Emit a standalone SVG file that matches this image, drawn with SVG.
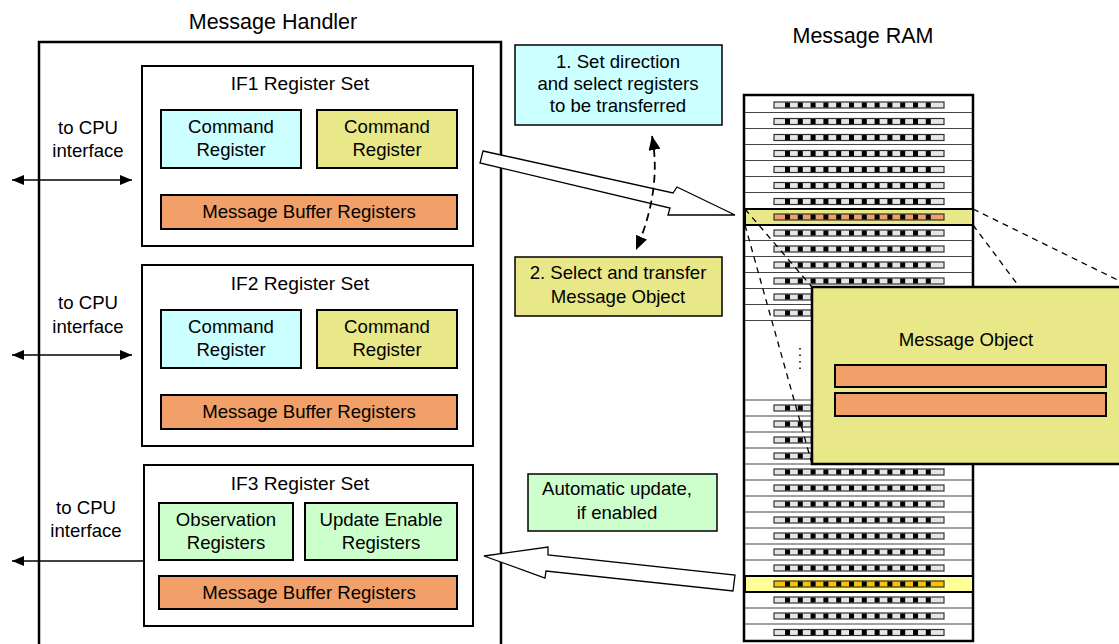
<svg xmlns="http://www.w3.org/2000/svg" width="1119" height="644" viewBox="0 0 1119 644">
<style>
text{font-family:"Liberation Sans",Arial,sans-serif;font-size:18.6px;fill:#000;text-anchor:middle}
.title{font-size:21.5px}
.sub{font-size:19.2px}
.box{stroke:#000;stroke-width:2}
.cyan{fill:#ccffff}
.yel{fill:#e8e888}
.org{fill:#f0a068}
.grn{fill:#ccffcc}
.sep{stroke:#444;stroke-width:1.2}
.dash{stroke:#000;stroke-width:1.3;stroke-dasharray:6 5;fill:none}
.conn{stroke:#000;stroke-width:1.5;fill:none}
.hollow{fill:#fff;stroke:#000;stroke-width:1.3}
</style>
<defs>
<marker id="ah" viewBox="0 0 12 10" refX="12" refY="5" markerWidth="12" markerHeight="10" markerUnits="userSpaceOnUse" orient="auto-start-reverse">
<path d="M0,0 L12,5 L0,10 z" fill="#000"/>
</marker>
<marker id="ah2" viewBox="0 0 14 12" refX="14" refY="6" markerWidth="14" markerHeight="12" markerUnits="userSpaceOnUse" orient="auto-start-reverse">
<path d="M0,0 L14,6 L0,12 z" fill="#000"/>
</marker>
<g id="strip">
<rect x="774" y="-3" width="170" height="6" fill="#e6e6e6" stroke="#333" stroke-width="1.2"/>
<line x1="785" y1="0" x2="931" y2="0" stroke="#000" stroke-width="5" stroke-dasharray="5 7.8"/>
</g>
<g id="stripO">
<rect x="774" y="-3" width="170" height="6" fill="#f0a068" stroke="#333" stroke-width="1.2"/>
<line x1="785" y1="0" x2="931" y2="0" stroke="#000" stroke-width="5" stroke-dasharray="5 7.8"/>
</g>
<g id="stripG">
<rect x="774" y="-3" width="170" height="6" fill="#ffc000" stroke="#333" stroke-width="1.2"/>
<line x1="785" y1="0" x2="931" y2="0" stroke="#000" stroke-width="5" stroke-dasharray="5 7.8"/>
</g>
</defs>
<rect width="1119" height="644" fill="#fff"/>

<g id="message-handler">
<rect x="39" y="42" width="462" height="620" fill="#fff" stroke="#000" stroke-width="2.5"/>
<text class="title" x="273" y="29">Message Handler</text>
</g>

<g id="cpu-labels">
<text x="88" y="134">to CPU</text>
<text x="88" y="157">interface</text>
<text x="88" y="309">to CPU</text>
<text x="88" y="333">interface</text>
<text x="86" y="514">to CPU</text>
<text x="86" y="537">interface</text>
</g>

<g id="if1">
<rect class="box" x="142" y="66" width="331" height="180" fill="#fff"/>
<text class="sub" x="300" y="90">IF1 Register Set</text>
<rect class="box cyan" x="161" y="110" width="140" height="58"/>
<text x="231" y="133">Command</text><text x="231" y="156">Register</text>
<rect class="box yel" x="317" y="110" width="140" height="58"/>
<text x="387" y="133">Command</text><text x="387" y="156">Register</text>
<rect class="box org" x="161" y="195" width="296" height="34"/>
<text x="309" y="218">Message Buffer Registers</text>
</g>

<g id="if2">
<rect class="box" x="142" y="265" width="331" height="181" fill="#fff"/>
<text class="sub" x="300" y="290">IF2 Register Set</text>
<rect class="box cyan" x="161" y="310" width="140" height="58"/>
<text x="231" y="333">Command</text><text x="231" y="356">Register</text>
<rect class="box yel" x="317" y="310" width="140" height="58"/>
<text x="387" y="333">Command</text><text x="387" y="356">Register</text>
<rect class="box org" x="161" y="395" width="296" height="34"/>
<text x="309" y="418">Message Buffer Registers</text>
</g>

<g id="if3">
<rect class="box" x="144" y="465" width="329" height="161" fill="#fff"/>
<text class="sub" x="300" y="490">IF3 Register Set</text>
<rect class="box grn" x="159" y="503" width="134" height="57"/>
<text x="226" y="526">Observation</text><text x="226" y="549">Registers</text>
<rect class="box grn" x="305" y="503" width="152" height="57"/>
<text x="381" y="526">Update Enable</text><text x="381" y="549">Registers</text>
<rect class="box org" x="159" y="576" width="298" height="33"/>
<text x="309" y="599">Message Buffer Registers</text>
</g>

<g id="label-1">
<rect x="515" y="45" width="207" height="80" class="cyan" stroke="#000" stroke-width="1.5"/>
<text x="618" y="68">1. Set direction</text>
<text x="618" y="90">and select registers</text>
<text x="618" y="112">to be transferred</text>
</g>
<g id="label-2">
<rect x="515" y="257" width="207" height="59" class="yel" stroke="#000" stroke-width="1.5"/>
<text x="618" y="279">2. Select and transfer</text>
<text x="618" y="303">Message Object</text>
</g>
<g id="label-auto">
<rect x="528" y="474" width="189" height="57" class="grn" stroke="#000" stroke-width="1.5"/>
<text x="617" y="495">Automatic update,</text>
<text x="617" y="519">if enabled</text>
</g>

<g id="message-ram">
<text class="title" x="863" y="43">Message RAM</text>
<rect x="744" y="95" width="229" height="546" fill="#fff" stroke="#000" stroke-width="2.5"/>
<g class="sep">
<line x1="745" y1="112.5" x2="972" y2="112.5"/>
<line x1="745" y1="128.5" x2="972" y2="128.5"/>
<line x1="745" y1="144.5" x2="972" y2="144.5"/>
<line x1="745" y1="160.5" x2="972" y2="160.5"/>
<line x1="745" y1="176.5" x2="972" y2="176.5"/>
<line x1="745" y1="192.5" x2="972" y2="192.5"/>
<line x1="745" y1="240.5" x2="972" y2="240.5"/>
<line x1="745" y1="256.5" x2="972" y2="256.5"/>
<line x1="745" y1="272.5" x2="972" y2="272.5"/>
<line x1="745" y1="288.5" x2="972" y2="288.5"/>
<line x1="745" y1="304.5" x2="972" y2="304.5"/>
<line x1="745" y1="320.5" x2="972" y2="320.5"/>
<line x1="745" y1="400" x2="972" y2="400"/>
<line x1="745" y1="416" x2="972" y2="416"/>
<line x1="745" y1="432" x2="972" y2="432"/>
<line x1="745" y1="448" x2="972" y2="448"/>
<line x1="745" y1="464" x2="972" y2="464"/>
<line x1="745" y1="480" x2="972" y2="480"/>
<line x1="745" y1="496" x2="972" y2="496"/>
<line x1="745" y1="512" x2="972" y2="512"/>
<line x1="745" y1="528" x2="972" y2="528"/>
<line x1="745" y1="544" x2="972" y2="544"/>
<line x1="745" y1="560" x2="972" y2="560"/>
<line x1="745" y1="608" x2="972" y2="608"/>
<line x1="745" y1="624" x2="972" y2="624"/>
</g>
<rect x="745" y="209" width="228" height="16" fill="#e8e888" stroke="#000" stroke-width="2"/>
<rect x="745" y="576" width="228" height="16" fill="#ffff99" stroke="#000" stroke-width="2"/>
<use href="#strip" y="105"/>
<use href="#strip" y="121.5"/>
<use href="#strip" y="137.5"/>
<use href="#strip" y="153.5"/>
<use href="#strip" y="169.5"/>
<use href="#strip" y="185.5"/>
<use href="#strip" y="201.5"/>
<use href="#stripO" y="217"/>
<use href="#strip" y="233"/>
<use href="#strip" y="249"/>
<use href="#strip" y="265"/>
<use href="#strip" y="281"/>
<use href="#strip" y="297"/>
<use href="#strip" y="313"/>
<use href="#strip" y="408"/>
<use href="#strip" y="424"/>
<use href="#strip" y="440"/>
<use href="#strip" y="456"/>
<use href="#strip" y="472"/>
<use href="#strip" y="488"/>
<use href="#strip" y="504"/>
<use href="#strip" y="520"/>
<use href="#strip" y="536"/>
<use href="#strip" y="552"/>
<use href="#strip" y="568"/>
<use href="#stripG" y="584"/>
<use href="#strip" y="600"/>
<use href="#strip" y="616"/>
<use href="#strip" y="632.5"/>
<line x1="800" y1="348" x2="800" y2="369" stroke="#000" stroke-width="1.5" stroke-dasharray="1.5 5"/>
</g>

<g id="connectors">
<line class="dash" x1="745" y1="209" x2="812" y2="287"/>
<line class="dash" x1="745" y1="225" x2="812" y2="464"/>
<line class="dash" x1="973" y1="209" x2="1140" y2="291"/>
<line class="dash" x1="973" y1="225" x2="1152" y2="464"/>
<line class="conn" x1="12" y1="180" x2="132" y2="180" marker-start="url(#ah)" marker-end="url(#ah)"/>
<line class="conn" x1="12" y1="355" x2="132" y2="355" marker-start="url(#ah)" marker-end="url(#ah)"/>
<line class="conn" x1="143" y1="561" x2="12" y2="561" marker-end="url(#ah)"/>
<polygon class="hollow" points="483,151 673,193 677,187 735,215 668,215 670,208 480,163"/>
<polygon class="hollow" points="484,556 548,547 548,555 735,575 733,591 546,571 545,578"/>
<path d="M652,136 Q662,190 636,250" fill="none" stroke="#000" stroke-width="1.8" stroke-dasharray="8 5" marker-start="url(#ah2)" marker-end="url(#ah2)"/>
</g>

<g id="message-object">
<rect x="812" y="287" width="340" height="177" fill="#e8e888" stroke="#000" stroke-width="2.5"/>
<text x="966" y="346">Message Object</text>
<rect class="box org" x="835" y="365" width="271" height="22"/>
<rect class="box org" x="835" y="393" width="271" height="23"/>
</g>
</svg>
